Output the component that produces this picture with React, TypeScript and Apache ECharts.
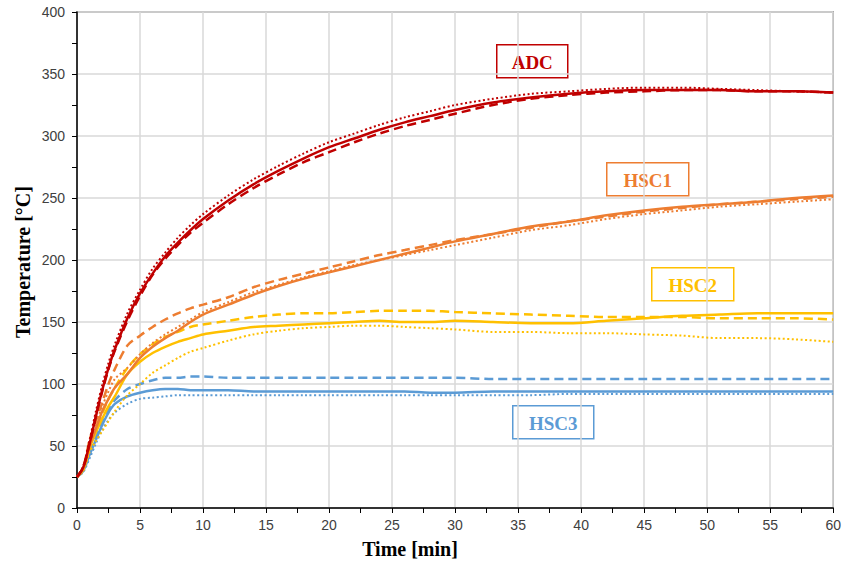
import React, { useEffect, useRef } from "react";
import * as echarts from "echarts";

const times = [0, 0.5, 1, 1.5, 2, 2.5, 3, 4, 5, 6, 7, 8, 9, 10, 12, 14, 16, 18, 20, 22, 24, 26, 28, 30, 33, 36, 39, 42, 45, 48, 51, 54, 57, 60];

const adcSolid = [25, 33, 52, 74, 95, 113, 128, 153, 173, 189, 203, 214, 224, 233, 248, 261, 272, 282, 291, 298, 305, 311, 316, 321, 327, 331, 334, 336, 337, 337, 337, 336, 336, 335];
const adcDashed = [25, 33, 52, 74, 94, 112, 127, 151, 171, 188, 201, 212, 222, 230, 245, 258, 269, 279, 287, 295, 302, 308, 313, 318, 325, 330, 333, 335, 336, 337, 337, 336, 336, 335];
const adcDotted = [25, 34, 55, 78, 99, 117, 132, 157, 176, 193, 206, 218, 228, 237, 252, 265, 276, 286, 295, 302, 309, 315, 320, 325, 330, 334, 336, 338, 339, 339, 338, 337, 336, 335];

const hsc1Solid = [25, 32, 50, 64, 78, 88, 97, 108, 121, 130, 137, 143, 150, 156, 164, 172, 179, 185, 190, 195, 200, 205, 210, 215, 221, 227, 231, 236, 240, 243, 245, 247, 250, 252];
const hsc1Dashed = [25, 33, 55, 70, 85, 100, 112, 131, 139, 146, 152, 157, 161, 164, 170, 178, 184, 189, 194, 199, 204, 208, 212, 216, 221, 226, 231, 235, 239, 242, 245, 247, 249, 251];
const hsc1Dotted = [25, 33, 53, 68, 82, 94, 104, 113, 124, 133, 140, 146, 152, 158, 166, 174, 180, 186, 191, 196, 200, 204, 208, 212, 218, 224, 228, 233, 237, 240, 243, 245, 247, 249];

const hsc2Solid = [25, 31, 48, 61, 72, 82, 90, 108, 118, 125, 130, 134, 137, 140, 143, 146, 147, 148, 149, 150, 151, 150, 150, 151, 150, 149, 149, 151, 153, 155, 156, 157, 157, 157];
const hsc2Dashed = [25, 32, 50, 64, 76, 88, 97, 113, 124, 132, 138, 142, 146, 148, 151, 154, 156, 157, 157, 158, 159, 159, 159, 158, 157, 156, 155, 154, 154, 154, 153, 153, 153, 152];
const hsc2Dotted = [25, 30, 45, 54, 62, 70, 78, 91, 100, 109, 115, 121, 126, 129, 135, 140, 143, 145, 146, 147, 147, 146, 145, 144, 142, 142, 141, 141, 140, 139, 137, 137, 136, 134];

const hsc3Solid = [25, 30, 43, 55, 67, 77, 84, 90, 93, 95, 96, 96, 95, 95, 95, 94, 94, 94, 94, 94, 94, 94, 93, 93, 94, 94, 94, 94, 94, 94, 94, 94, 94, 94];
const hsc3Dashed = [25, 31, 45, 58, 70, 80, 87, 96, 100, 103, 105, 105, 106, 106, 105, 105, 105, 105, 105, 105, 105, 105, 105, 105, 104, 104, 104, 104, 104, 104, 104, 104, 104, 104];
const hsc3Dotted = [25, 29, 40, 52, 63, 71, 77, 84, 88, 89, 90, 91, 91, 91, 91, 91, 91, 91, 91, 91, 91, 91, 91, 91, 91, 91, 92, 92, 92, 92, 92, 92, 92, 92];

const xTicks = [0, 5, 10, 15, 20, 25, 30, 35, 40, 45, 50, 55, 60];
const yTicks = [0, 50, 100, 150, 200, 250, 300, 350, 400];

const groups = [
  { name: "ADC", color: "#C00000", solid: adcSolid, dashed: adcDashed, dotted: adcDotted },
  { name: "HSC1", color: "#ED7D31", solid: hsc1Solid, dashed: hsc1Dashed, dotted: hsc1Dotted },
  { name: "HSC2", color: "#FFC000", solid: hsc2Solid, dashed: hsc2Dashed, dotted: hsc2Dotted },
  { name: "HSC3", color: "#5B9BD5", solid: hsc3Solid, dashed: hsc3Dashed, dotted: hsc3Dotted },
];

const labelBoxes = [
  { text: "ADC", color: "#C00000", x: 496, y: 44, w: 71, h: 33 },
  { text: "HSC1", color: "#ED7D31", x: 606, y: 162, w: 82, h: 33 },
  { text: "HSC2", color: "#FFC000", x: 651, y: 267, w: 82, h: 33 },
  { text: "HSC3", color: "#5B9BD5", x: 512, y: 405, w: 81, h: 33 },
];

const xTitle = "Time [min]";
const yTitle = "Temperature [°C]";

export default function App() {
  const ref = useRef<HTMLDivElement>(null);
  useEffect(() => {
    if (!ref.current) return;
    const chart = echarts.init(ref.current, null, { renderer: "svg" });
    const series: any[] = [];
    const order = [3, 2, 1, 0];
    order.forEach((gi) => {
      const g = groups[gi];
      const mk = (vals: number[], type: any, width: number, name: string) => ({
        type: "line",
        name: g.name + " " + name,
        data: times.map((t, i) => [t, vals[i]]),
        smooth: 0.3,
        showSymbol: false,
        symbol: "none",
        lineStyle: { color: g.color, width, type },
        z: 3,
      });
      series.push(mk(g.dotted, [2, 2.5], 2, "dotted"));
      series.push(mk(g.dashed, [9, 5], 2.5, "dashed"));
      series.push(mk(g.solid, "solid", 2.5, "solid"));
    });

    const titleFont = "bold 20px 'Liberation Serif', serif";
    const graphic: any[] = labelBoxes.map((b) => ({
      type: "group",
      left: b.x,
      top: b.y,
      children: [
        {
          type: "rect",
          shape: { x: 0, y: 0, width: b.w, height: b.h },
          style: { fill: "#fff", stroke: b.color, lineWidth: 1.5 },
        },
        {
          type: "text",
          x: b.w / 2,
          y: b.h / 2 + 1,
          style: {
            text: b.text,
            fill: b.color,
            font: "bold 19px 'Liberation Serif', serif",
            align: "center",
            verticalAlign: "middle",
          },
        },
      ],
    }));
    graphic.push({
      type: "text",
      x: 410,
      y: 549,
      style: { text: xTitle, fill: "#000", font: titleFont, align: "center", verticalAlign: "middle" },
    });
    graphic.push({
      type: "text",
      x: 23,
      y: 262,
      rotation: Math.PI / 2,
      style: { text: yTitle, fill: "#000", font: titleFont, align: "center", verticalAlign: "middle" },
    });

    chart.setOption({
      animation: false,
      backgroundColor: "#fff",
      grid: {
        left: 77,
        right: 9,
        top: 12,
        bottom: 57,
        show: true,
        borderColor: "#7f7f7f",
        borderWidth: 1.5,
        backgroundColor: "transparent",
      },
      xAxis: {
        type: "value",
        min: 0,
        max: 60,
        interval: 5,
        axisLine: { show: true, lineStyle: { color: "#000", width: 1.5 } },
        axisTick: { show: true, length: 5, lineStyle: { color: "#000", width: 1 } },
        minorTick: { show: true, splitNumber: 2, length: 5, lineStyle: { color: "#000", width: 1 } },
        splitLine: { show: true, lineStyle: { color: "#d9d9d9", width: 1.5 } },
        axisLabel: {
          color: "#404040",
          fontSize: 14,
          fontFamily: "'Liberation Sans', sans-serif",
          margin: 10,
          formatter: (v: number) => (xTicks.includes(v) ? String(v) : ""),
        },
      },
      yAxis: {
        type: "value",
        min: 0,
        max: 400,
        interval: 50,
        axisLine: { show: true, lineStyle: { color: "#000", width: 1.5 } },
        axisTick: { show: true, length: 5, lineStyle: { color: "#000", width: 1 } },
        minorTick: { show: true, splitNumber: 2, length: 5, lineStyle: { color: "#000", width: 1 } },
        splitLine: { show: true, lineStyle: { color: "#d9d9d9", width: 1.5 } },
        axisLabel: {
          color: "#404040",
          fontSize: 14,
          fontFamily: "'Liberation Sans', sans-serif",
          margin: 12,
          formatter: (v: number) => (yTicks.includes(v) ? String(v) : ""),
        },
      },
      series,
      graphic,
    });
    return () => chart.dispose();
  }, []);
  return (
    <div
      ref={ref}
      style={{ position: "fixed", left: 0, top: 0, width: 844, height: 565, background: "#fff" }}
    />
  );
}
